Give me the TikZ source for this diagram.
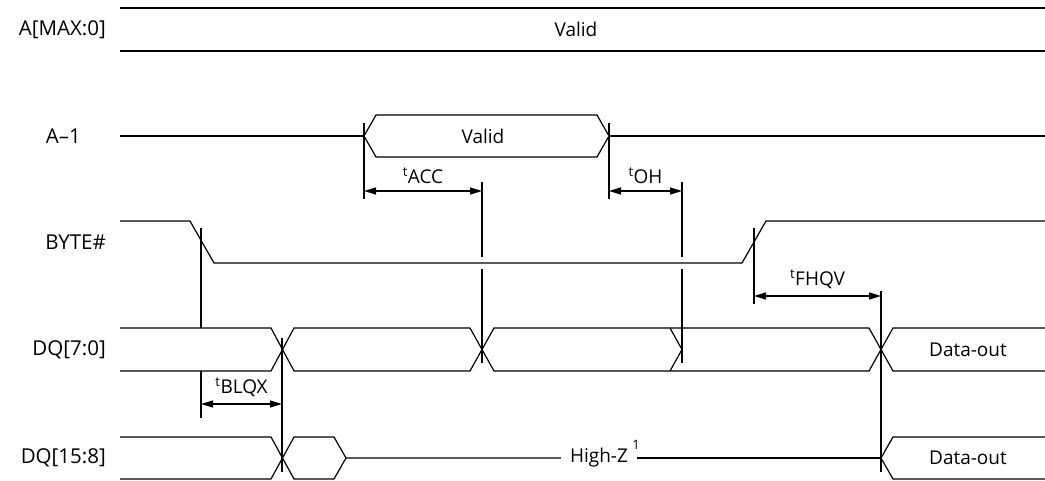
\documentclass[tikz,border=0pt]{standalone}
\usepackage{fontspec}
\setmainfont{Open Sans}
\usetikzlibrary{arrows.meta}

\begin{document}
\begin{tikzpicture}[x=1pt,y=-1pt]
    \tikzstyle{every node}=[font=\fontsize{19}{22}\selectfont, inner sep=1pt]
    \tikzstyle{wave}=[line width=1.2pt]
    \tikzstyle{bus}=[line width=1.8pt]
    \tikzstyle{tick}=[line width=1.2pt]
    \tikzstyle{meas}=[line width=1.2pt,
        {Triangle[length=12pt,width=7pt]}-{Triangle[length=12pt,width=7pt]}]
    \tikzstyle{sig}=[anchor=east, font=\fontsize{20.5}{24}\selectfont]
    \newcommand{\tm}[1]{\textsuperscript{t}#1}

    \useasboundingbox (0,0) rectangle (1045,481);

    % signal names
    \node[sig] (addr) at (107,29.5) {A[MAX:0]};
    \node[sig] (aone) at (82,136) {A–1};
    \node[sig] (byte) at (107,242) {BYTE\#};
    \node[sig] (dqlo) at (107,349.5) {DQ[7:0]};
    \node[sig] (dqhi) at (107,458) {DQ[15:8]};

    % A[MAX:0]
    \draw[bus] (120,8) -- (1045,8) (120,51) -- (1045,51);
    \node (addrv) at (576,29.5) {Valid};

    % A-1
    \draw[wave] (120,136) -- (364,136) (609,136) -- (1045,136);
    \draw[wave] (364,136) -- (376,115) -- (597,115) -- (609,136)
                -- (597,157) -- (376,157) -- cycle;
    \node (aonev) at (483,136) {Valid};

    % BYTE#
    \draw[wave] (120,221) -- (190,221) -- (214,263) -- (742,263)
                -- (766,221) -- (1045,221);

    % DQ[7:0]
    \draw[wave] (120,328) -- (271,328) -- (294,371) -- (470,371) -- (494,328)
                -- (869,328) -- (893,371) -- (1045,371);
    \draw[wave] (120,371) -- (271,371) -- (294,328) -- (470,328) -- (494,371)
                -- (869,371) -- (893,328) -- (1045,328);
    \draw[wave] (670,328) -- (682,349.5) -- (670,371);
    \node (dqlov) at (968,349.5) {Data-out};

    % DQ[15:8]
    \node[inner xsep=9pt] (hz) at (599,458) {High-Z};
    \node[font=\fontsize{13}{15}\selectfont] (fn) at (636,445) {1};
    \draw[wave] (120,437) -- (271,437) -- (294,479) -- (334,479) -- (346,458)
                -- (hz.west);
    \draw[wave] (120,479) -- (271,479) -- (294,437) -- (334,437) -- (346,458);
    \draw[wave] (hz.east) -- (881,458);
    \draw[wave] (1045,437) -- (893,437) -- (881,458) -- (893,479) -- (1045,479);
    \node (dqhiv) at (968,458) {Data-out};

    % timing marks
    \draw[tick] (364,123) -- (364,199) (609,123) -- (609,199);
    \draw[tick] (482,182) -- (482,257) (482,269) -- (482,363);
    \draw[tick] (682,182) -- (682,257) (682,269) -- (682,363);
    \draw[tick] (201,228) -- (201,328) (201,371) -- (201,418);
    \draw[tick] (282,338) -- (282,472);
    \draw[tick] (754,228) -- (754,304);
    \draw[tick] (881,291) -- (881,472);

    \draw[meas] (364,191) -- node[above=6pt] (tacc) {\tm{ACC}} (482,191);
    \draw[meas] (609,191) -- node[above=6pt] (toh) {\tm{OH}} (682,191);
    \draw[meas] (754,296) -- node[above=6pt] (tfhqv) {\tm{FHQV}} (881,296);
    \draw[meas] (201,404) -- node[above=6pt] (tblqx) {\tm{BLQX}} (282,404);
\end{tikzpicture}
\end{document}
